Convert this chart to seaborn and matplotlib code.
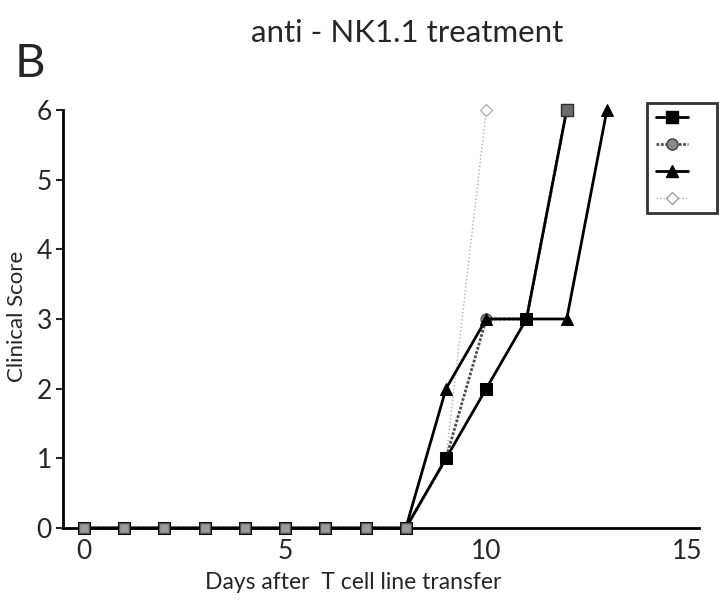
import matplotlib
matplotlib.use('Agg')
import matplotlib.pyplot as plt
from matplotlib.lines import Line2D
import pandas
import seaborn

# clinical score per day for each group
days_square = [0, 1, 2, 3, 4, 5, 6, 7, 8, 9, 10, 11, 12]
score_square = [0, 0, 0, 0, 0, 0, 0, 0, 0, 1, 2, 3, 6]
days_circle = [0, 1, 2, 3, 4, 5, 6, 7, 8, 9, 10, 11, 12]
score_circle = [0, 0, 0, 0, 0, 0, 0, 0, 0, 1, 3, 3, 6]
days_triangle = [0, 1, 2, 3, 4, 5, 6, 7, 8, 9, 10, 11, 12, 13]
score_triangle = [0, 0, 0, 0, 0, 0, 0, 0, 0, 2, 3, 3, 3, 6]
days_diamond = [0, 1, 2, 3, 4, 5, 6, 7, 8, 9, 10]
score_diamond = [0, 0, 0, 0, 0, 0, 0, 0, 0, 1, 6]

xticks = [0, 5, 10, 15]
yticks = [0, 1, 2, 3, 4, 5, 6]

seaborn.set_style('white')
plt.rcParams['font.family'] = ['Lato', 'DejaVu Sans']

fig = plt.figure(figsize=(7.2, 6.07), dpi=100)
ax = fig.add_axes([0.0875, 0.130, 0.884, 0.689])

styles = [
    (days_diamond, score_diamond, dict(color='#b0b0b0', linestyle=':', linewidth=1.0,
                                       marker='D', markersize=6, markerfacecolor='white',
                                       markeredgecolor='#a0a0a0')),
    (days_circle, score_circle, dict(color='#505050', linestyle=(0, (1, 0.6)), linewidth=2.0,
                                     marker='o', markersize=8, markerfacecolor='#8a8a8a',
                                     markeredgecolor='#404040')),
    (days_square, score_square, dict(color='black', linestyle='-', linewidth=2.0,
                                     marker='s', markersize=8, markerfacecolor='black',
                                     markeredgecolor='black')),
    (days_triangle, score_triangle, dict(color='black', linestyle='-', linewidth=2.0,
                                         marker='^', markersize=9, markerfacecolor='black',
                                         markeredgecolor='black')),
]

for days, score, kw in styles:
    df = pandas.DataFrame({'day': days, 'score': score})
    seaborn.lineplot(data=df, x='day', y='score', ax=ax, clip_on=False, zorder=3, **kw)

# zero-score markers and the overlapping top point look hatched grey in the original
zero_df = pandas.DataFrame({'day': days_triangle[:9], 'score': score_triangle[:9]})
seaborn.scatterplot(data=zero_df, x='day', y='score', ax=ax, marker='s', s=55,
                    color='#9a9a9a', edgecolor='#505050', linewidth=1, zorder=5, clip_on=False)
top_df = pandas.DataFrame({'day': days_circle[-1:], 'score': score_circle[-1:]})
seaborn.scatterplot(data=top_df, x='day', y='score', ax=ax, marker='s', s=70,
                    color='#6a6a6a', edgecolor='#303030', linewidth=1, zorder=5, clip_on=False)

ax.set_xlim(-0.52, 15.3)
ax.set_ylim(0, 6)
ax.set_xticks(xticks)
ax.set_yticks(yticks)
ax.tick_params(axis='both', labelsize=19, length=5, width=1.5, direction='out',
               bottom=True, left=True, pad=3)
ax.tick_params(axis='x', length=0, pad=8)
for side in ['top', 'right']:
    ax.spines[side].set_visible(False)
for side in ['left', 'bottom']:
    ax.spines[side].set_linewidth(2)
    ax.spines[side].set_color('black')
ax.set_xlabel('')
ax.set_ylabel('')

fig.text(0.49, 0.040, 'Days after  T cell line transfer', fontsize=16.5, ha='center', va='center')
fig.text(0.024, 0.479, 'Clinical Score', fontsize=16, rotation=90, ha='center', va='center')
fig.text(0.566, 0.945, 'anti - NK1.1 treatment', fontsize=22.5, ha='center', va='center')
fig.text(0.02, 0.895, 'B', fontsize=34, ha='left', va='center')

handles = [
    Line2D([], [], color='black', linewidth=2, marker='s', markersize=8),
    Line2D([], [], color='#505050', linestyle=(0, (1, 0.6)), linewidth=2, marker='o',
           markersize=8, markerfacecolor='#8a8a8a', markeredgecolor='#404040'),
    Line2D([], [], color='black', linewidth=2, marker='^', markersize=9),
    Line2D([], [], color='#b0b0b0', linestyle=':', linewidth=1, marker='D', markersize=6,
           markerfacecolor='white', markeredgecolor='#a0a0a0'),
]
leg = fig.legend(handles=handles, labels=['', '', '', ''], loc='upper right',
                 bbox_to_anchor=(0.996, 0.830), borderaxespad=0, frameon=True, fancybox=False,
                 handlelength=2.3, handletextpad=1.5, labelspacing=1.08, borderpad=0.61,
                 edgecolor='black')
leg.get_frame().set_linewidth(2)

fig.savefig('out.png', dpi=100)
